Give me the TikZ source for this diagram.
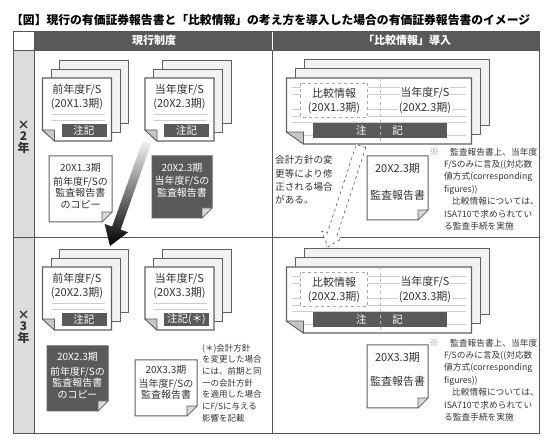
\documentclass[tikz,border=0pt]{standalone}
\usepackage{fontspec}
\setmainfont{Noto Sans CJK JP}
\usetikzlibrary{calc,positioning}

\definecolor{hdrgray}{HTML}{58595B}
\definecolor{colgray}{HTML}{DCDCDC}
\definecolor{rulegray}{HTML}{555555}
\definecolor{sheetgray}{HTML}{606060}
\definecolor{boxgray}{HTML}{5A5A5A}
\definecolor{inkgray}{HTML}{333333}

\tikzset{
  rule/.style={draw=rulegray, line width=0.9pt},
  backsheet/.style={draw=sheetgray, line width=1pt, fill=gray!10},
  frontsheet/.style={draw=sheetgray, line width=1.2pt, fill=white},
  flap/.style={draw=sheetgray, line width=0.6pt, fill=gray!45},
  txtline/.style={draw=gray!40, line width=0.9pt},
  stacktxt/.style={inner sep=0.5pt, text=inkgray, font=\fontsize{11}{13}\selectfont},
  notebar/.style={fill=boxgray, text=white, inner sep=0pt, font=\fontsize{10.5}{12}\selectfont},
  docwhite/.style={draw=sheetgray, line width=1pt, fill=white},
  docdark/.style={draw=sheetgray, line width=1pt, fill=boxgray},
  doctxt/.style={align=center, inner sep=0pt, font=\fontsize{10}{11.5}\selectfont},
  yearlbl/.style={align=center, inner sep=0pt, text=inkgray, font=\bfseries\fontsize{12}{11.5}\selectfont},
  smalltxt/.style={align=left, inner sep=0pt, text=inkgray, font=\fontsize{8.7}{12.4}\selectfont},
}

% stack of three F/S sheets (left panel)
\newcommand{\smallstack}[6]{%
  \foreach \k in {2,1}
    \draw[backsheet] ({#2+8.5*\k},{#3-8.5*\k}) rectangle ++(69,63);
  \draw[frontsheet] (#2,#3) -- ++(69,0) -- ++(0,63) -- ++(-57,0) -- ++(-12,-11) -- cycle;
  \draw[txtline] ({#2+9},{#3+36}) -- ++(53,0);
  \draw[txtline] ({#2+9},{#3+42}) -- ++(53,0);
  \draw[flap] ({#2},{#3+52}) -- ++(12,0) -- ++(0,11) -- cycle;
  \node[stacktxt] (#1a) at ({#2+34.5},{#3+12}) {#4};
  \node[stacktxt] (#1b) at ({#2+34.5},{#3+26}) {#5};
  \node[notebar, minimum width=45pt, minimum height=13pt] (#1c) at ({#2+41.5},{#3+52.5}) {#6};
}

% stack of three F/S sheets with comparative info (right panel)
\newcommand{\bigstack}[5]{%
  \foreach \k in {2,1}
    \draw[backsheet] ({#2+9*\k},{#3-9*\k}) rectangle ++(185,66);
  \draw[frontsheet] (#2,#3) -- ++(185,0) -- ++(0,66) -- ++(-168,0) -- ++(-17,-12) -- cycle;
  \foreach \ly in {9,16,31,38,44,57}
    \draw[txtline] ({#2+5},{#3+\ly}) -- ++(174,0);
  \draw[flap] ({#2},{#3+54}) -- ++(17,0) -- ++(0,12) -- cycle;
  \draw[dashed, draw=gray!70, fill=white, line width=0.7pt] ({#2+14},{#3+5}) rectangle ++(67,34);
  \node[stacktxt] (#1a) at ({#2+47.5},{#3+15}) {比較情報};
  \node[stacktxt] (#1b) at ({#2+47.5},{#3+30}) {#4};
  \node[stacktxt, fill=white] (#1c) at ({#2+138.5},{#3+15}) {当年度F/S};
  \node[stacktxt, fill=white] (#1d) at ({#2+138.5},{#3+30}) {#5};
  \node[notebar, minimum width=134pt, minimum height=15pt] (#1e) at ({#2+93},{#3+52.5}) {注\hspace{26pt}記};
  \draw[dashed, draw=gray!55, line width=0.7pt] ({#2+93.5},{#3}) -- ++(0,66);
}

% single sheet with folded corner
\newcommand{\docsheet}[5]{%
  \draw[#1] (#2,#3) -- ++(#4,0) -- ++(0,{#5-10}) -- ++(-10,10) -- ({#2},{#3+#5}) -- cycle;
  \draw[flap, fill=gray!30] ({#2+#4},{#3+#5-10}) -- ++(-10,0) -- ++(0,10) -- cycle;
}

\begin{document}
\begin{tikzpicture}[x=1pt,y=-1pt]
\useasboundingbox (0,0) rectangle (550,443);

\node[anchor=west, inner sep=0pt, font=\bfseries\fontsize{11.8}{14}\selectfont] (title) at (11,20)
  {【図】現行の有価証券報告書と「比較情報」の考え方を導入した場合の有価証券報告書のイメージ};

% table
\fill[colgray] (13,50) rectangle (34,433);
\fill[hdrgray] (34,31) rectangle (539,50);
\draw[white, line width=0.8pt] (272,31) -- (272,50);
\draw[rule] (13,31) rectangle (539,433);
\draw[rule] (34,31) -- (34,433);
\draw[rule] (13,50) -- (539,50);
\draw[rule] (13,237) -- (539,237);
\draw[rule] (272,50) -- (272,433);

\node[text=white, font=\bfseries\fontsize{11}{13}\selectfont] (hcur) at (154,40.5) {現行制度};
\node[text=white, font=\bfseries\fontsize{11}{13}\selectfont] (hcmp) at (407,40.5) {「比較情報」導入};

\node[yearlbl] (yr2) at (23.5,137) {×\\2\\年};
\node[yearlbl] (yr3) at (23.5,327) {×\\3\\年};

% X2 current system
\smallstack{pa}{42.5}{78}{前年度F/S}{(20X1.3期)}{注記}
\smallstack{pb}{145}{78}{当年度F/S}{(20X2.3期)}{注記}
\docsheet{docwhite}{49}{156}{63}{66}
\node[doctxt, text=inkgray] (wa) at (80.5,167.5) {20X1.3期};
\node[doctxt, text=inkgray] (wb) at (80.5,192.5) {前年度F/Sの\\監査報告書\\のコピー};
\docsheet{docdark}{152}{156}{60}{62}
\node[doctxt, text=white] (da) at (182,167.5) {20X2.3期};
\node[doctxt, text=white] (db) at (182,186.8) {当年度F/Sの\\監査報告書};

% X3 current system
\smallstack{qa}{42.5}{267}{前年度F/S}{(20X2.3期)}{注記}
\smallstack{qb}{145}{267}{当年度F/S}{(20X3.3期)}{注記(＊)}
\docsheet{docdark}{47}{346}{61}{65}
\node[doctxt, text=white] (dc) at (77.5,357) {20X2.3期};
\node[doctxt, text=white] (dd) at (77.5,382.5) {前年度F/Sの\\監査報告書\\のコピー};
\docsheet{docwhite}{135}{360}{62}{56}
\node[doctxt, text=inkgray] (wc) at (166,370) {20X3.3期};
\node[doctxt, text=inkgray] (wd) at (166,389) {当年度F/Sの\\監査報告書};
\node[smalltxt, anchor=west, font=\fontsize{8.5}{11.7}\selectfont] (ast) at (202,383)
  {(＊)会計方針\\を変更した場合\\には、前期と同\\一の会計方針\\を適用した場合\\にF/Sに与える\\影響を記載};

% X2 comparative information
\bigstack{ra}{286.5}{78}{(20X1.3期)}{(20X2.3期)}
\docsheet{docwhite}{367}{156}{61}{64}
\node[doctxt, text=inkgray, font=\fontsize{11}{13}\selectfont] (ra1) at (397.5,168) {20X2.3期};
\node[doctxt, text=inkgray, font=\fontsize{11}{13}\selectfont] (ra2) at (397.5,195) {監査報告書};
\node[smalltxt, anchor=west, font=\fontsize{9.6}{13.3}\selectfont] (chg) at (275,180)
  {会計方針の変\\更等により修\\正される場合\\がある。};
\node[smalltxt, text=gray!80, font=\fontsize{10}{12}\selectfont] (mk1) at (434,152) {※};
\node[smalltxt, anchor=west] (nt1) at (444,189)
  {\hspace*{6pt}監査報告書上、当年度\\F/Sのみに言及((対応数\\値方式(corresponding\\figures))\\\hspace*{8pt}比較情報については、\\ISA710で求められてい\\る監査手続を実施};

% X3 comparative information
\bigstack{rb}{286.5}{267}{(20X2.3期)}{(20X3.3期)}
\docsheet{docwhite}{367}{345}{61}{63}
\node[doctxt, text=inkgray, font=\fontsize{11}{13}\selectfont] (rb1) at (397.5,357) {20X3.3期};
\node[doctxt, text=inkgray, font=\fontsize{11}{13}\selectfont] (rb2) at (397.5,381) {監査報告書};
\node[smalltxt, text=gray!80, font=\fontsize{10}{12}\selectfont] (mk2) at (434,343) {※};
\node[smalltxt, anchor=west] (nt2) at (444,380)
  {\hspace*{6pt}監査報告書上、当年度\\F/Sのみに言及((対応数\\値方式(corresponding\\figures))\\\hspace*{8pt}比較情報については、\\ISA710で求められてい\\る監査手続を実施};

% shaded arrow: this year's F/S becomes next year's prior F/S
\coordinate (gS) at (147,142);
\coordinate (gT) at (110,246);
\coordinate (gH) at ($(gT)!19pt!(gS)$);
\shade[top color=gray!10, bottom color=black]
  ($(gS)!4.5pt!90:(gT)$) -- ($(gH)!4.5pt!90:(gT)$) -- ($(gH)!12.5pt!90:(gT)$) -- (gT)
  -- ($(gH)!12.5pt!-90:(gT)$) -- ($(gH)!4.5pt!-90:(gT)$) -- ($(gS)!4.5pt!-90:(gT)$) -- cycle;

% dashed arrow: restated comparatives
\coordinate (dS) at (361,146);
\coordinate (dT) at (328,247);
\coordinate (dH) at ($(dT)!13pt!(dS)$);
\draw[dashed, draw=gray!70!black, fill=white, line width=0.6pt]
  ($(dS)!5pt!90:(dT)$) -- ($(dH)!5pt!90:(dT)$) -- ($(dH)!11pt!90:(dT)$) -- (dT)
  -- ($(dH)!11pt!-90:(dT)$) -- ($(dH)!5pt!-90:(dT)$) -- ($(dS)!5pt!-90:(dT)$) -- cycle;

\end{tikzpicture}
\end{document}
